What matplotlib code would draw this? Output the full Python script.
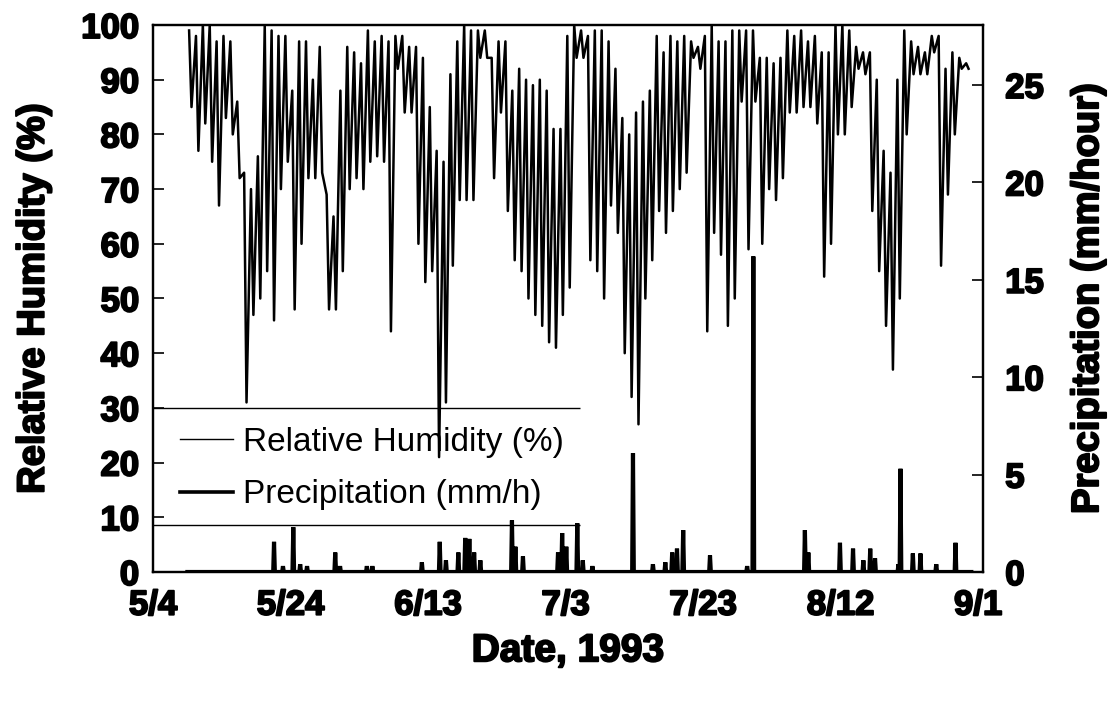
import numpy as np
import pandas as pd
import matplotlib
matplotlib.use("Agg")
import matplotlib.pyplot as plt
import matplotlib.patheffects as pe
from matplotlib.lines import Line2D

plt.rcParams['font.family'] = ['Liberation Sans', 'DejaVu Sans']

start = pd.Timestamp("1993-05-04")
first_day = 5

rh_max = [99, 98, 100, 100, 97, 98, 97, 86, 73, 70,
          76, 100, 99, 98, 98, 88, 97, 97, 90, 96,
          69, 65, 88, 96, 95, 93, 99, 97, 98, 97,
          98, 98, 96, 96, 94, 85, 77, 75, 91, 97,
          100, 99, 99, 99, 94, 97, 97, 88, 92, 90,
          89, 90, 88, 81, 81, 98, 100, 99, 98, 99,
          99, 97, 92, 83, 80, 84, 86, 88, 98, 95,
          98, 97, 98, 97, 96, 98, 100, 97, 97, 99,
          99, 99, 99, 94, 94, 93, 94, 99, 98, 99,
          97, 98, 95, 95, 100, 100, 99, 96, 95, 95,
          90, 77, 73, 90, 99, 97, 96, 95, 98, 98,
          92, 95, 94, 93]
rh_min = [85, 77, 82, 75, 67, 83, 80, 72, 31, 47,
          50, 55, 46, 70, 75, 48, 60, 72, 72, 73,
          48, 48, 55, 70, 72, 70, 75, 76, 75, 44,
          92, 84, 84, 60, 53, 55, 21, 31, 56, 68,
          68, 68, 94, 94, 72, 84, 66, 57, 55, 50,
          47, 45, 42, 41, 47, 52, 94, 94, 57, 55,
          50, 67, 62, 40, 32, 27, 50, 57, 66, 62,
          66, 70, 73, 94, 92, 44, 62, 58, 45, 50,
          86, 59, 86, 60, 70, 68, 72, 84, 84, 85,
          85, 82, 54, 60, 80, 80, 85, 92, 91, 66,
          55, 45, 37, 50, 80, 91, 91, 91, 95, 56,
          69, 80, 92, 92]

# rain events: day after 5/4 and peak intensity (mm/h)
rain_day = [17.6, 18.9, 20.4, 21.4, 22.4, 26.5, 27.2, 31.1, 31.9, 39.1,
            41.7, 42.6, 44.4, 45.4, 46.0, 46.7, 47.6, 52.2, 52.7, 53.8,
            58.9, 59.5, 60.1, 61.7, 62.5, 63.9, 69.8, 72.7, 74.5, 75.5,
            76.2, 77.1, 81.0, 86.4, 87.3, 94.8, 95.3, 99.9, 101.8, 103.3,
            104.3, 105.0, 108.4, 108.7, 110.5, 111.6, 113.9, 116.7]
rain_mmh = [1.55, 0.3, 2.3, 0.4, 0.3, 1.0, 0.3, 0.3, 0.3, 0.5,
            1.55, 0.6, 1.0, 1.75, 1.7, 1.0, 0.6, 2.65, 1.3, 0.8,
            1.0, 2.0, 1.3, 2.5, 0.6, 0.3, 6.1, 0.4, 0.5, 1.0,
            1.2, 2.15, 0.85, 0.3, 16.2, 2.15, 1.0, 1.5, 1.2, 0.6,
            1.2, 0.7, 0.4, 5.3, 0.95, 0.95, 0.4, 1.5]

tick_days = [0, 20, 40, 60, 80, 100, 120]

days = first_day + np.arange(len(rh_max))
rh_t = np.ravel(np.column_stack([days + 0.25, days + 0.6]))
rh_v = np.ravel(np.column_stack([rh_max, rh_min]))

rd = np.array(rain_day)
rv = np.array(rain_mmh)
pt = np.concatenate([[first_day], np.ravel(np.column_stack([rd - 0.12, rd, rd + 0.12])), [days[-1] + 1]])
pv = np.concatenate([[0], np.ravel(np.column_stack([0 * rv, rv, 0 * rv])), [0]])

to_date = lambda d: start + pd.to_timedelta(np.asarray(d, dtype=float), unit="D")

fig = plt.figure(figsize=(11.15, 7.02), dpi=100)
ax = fig.add_axes([153 / 1115, 1 - 572 / 702, 830 / 1115, 547 / 702])
ax2 = ax.twinx()

ax.plot(to_date(rh_t), rh_v, color='black', lw=1.8)
ax2.plot(to_date(pt), pv, color='black', lw=3.0, solid_joinstyle='miter')

ax.set_xlim(to_date(0), to_date(120.7))
ax.set_ylim(0, 100)
ax2.set_ylim(0, 28.08)
ax.set_yticks(range(0, 101, 10))
ax2.set_yticks(range(0, 26, 5))
tdates = to_date(tick_days)
ax.set_xticks(tdates)
ax.set_xticklabels([f"{d.month}/{d.day}" for d in tdates])

stroke = [pe.withStroke(linewidth=1.4, foreground='black')]
for a in (ax, ax2):
    for s in a.spines.values():
        s.set_linewidth(1.6)
    a.tick_params(axis='y', direction='in', length=8, width=1.2)
    for lab in a.get_yticklabels() + a.get_xticklabels():
        lab.set_fontsize(25)
        lab.set_fontweight('bold')
        lab.set_path_effects(stroke)
ax.tick_params(axis='x', length=0, pad=12)
ax.tick_params(axis='y', pad=10)
ax2.tick_params(axis='y', pad=16)

ax.set_ylabel("Relative Humidity (%)", fontsize=27.5, fontweight='bold', path_effects=stroke)
ax2.set_ylabel("Precipitation (mm/hour)", fontsize=27.5, fontweight='bold', path_effects=stroke)
ax.set_xlabel("Date, 1993", fontsize=28, fontweight='bold', path_effects=stroke)
ax.yaxis.set_label_coords(-0.122, 0.5)
ax2.yaxis.set_label_coords(1.105, 0.5)
ax.xaxis.set_label_coords(0.5, -0.112)

# legend: lines above and below, no fill
ax.hlines([(572 - 408) / 547, (572 - 525) / 547], 0, 0.514, transform=ax.transAxes,
          color='black', lw=1.0)
handles = [Line2D([], [], color='black', lw=1.0), Line2D([], [], color='black', lw=2.6)]
ax.legend(handles, ["Relative Humidity (%)", "Precipitation (mm/h)"],
          loc='center left', bbox_to_anchor=(0.0325, 0.189), frameon=False,
          fontsize=24, handlelength=1.6, handletextpad=0.3, labelspacing=0.65,
          borderpad=0, borderaxespad=0)

fig.savefig("out.png", dpi=100)
